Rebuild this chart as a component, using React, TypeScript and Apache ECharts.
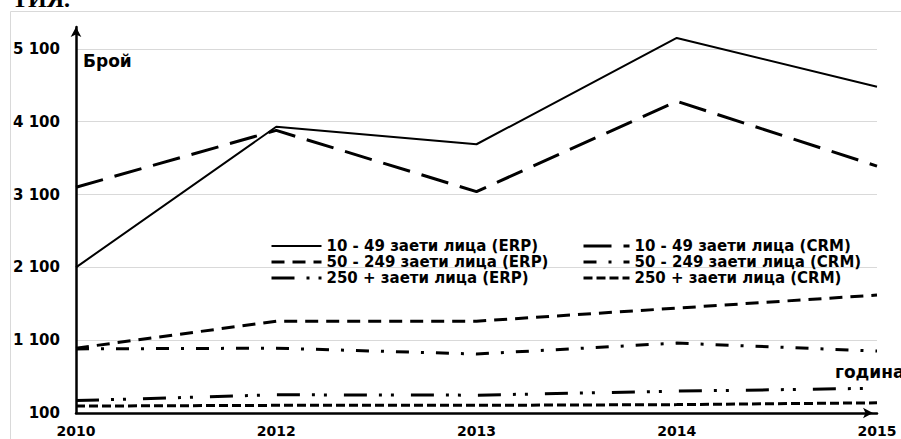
import { useEffect, useRef } from 'react';
import * as echarts from 'echarts';

const years = ['2010', '2012', '2013', '2014', '2015'];
const erp10to49 = [2100, 4030, 3790, 5250, 4580];
const crm10to49 = [3200, 3980, 3140, 4380, 3490];
const erp50to249 = [990, 1360, 1360, 1540, 1720];
const crm50to249 = [980, 990, 910, 1060, 950];
const erp250plus = [270, 350, 345, 400, 440];
const crm250plus = [195, 205, 205, 215, 240];

const seriesNames = [
  '10 - 49 заети лица (ERP)',
  '10 - 49 заети лица (CRM)',
  '50 - 249 заети лица (ERP)',
  '50 - 249 заети лица (CRM)',
  '250 + заети лица (ERP)',
  '250 + заети лица (CRM)',
];
const seriesValues = [erp10to49, crm10to49, erp50to249, crm50to249, erp250plus, crm250plus];

const yMin = 100;
const yMax = 5400;
const yStep = 1000;

const yAxisTitle = 'Брой';
const xAxisTitle = 'година';
const headingFragment = 'ТИЯ.';

const FONT = 'DejaVu Sans';

const lineStyles: { width: number; type: any }[] = [
  { width: 2, type: 'solid' },
  { width: 3, type: [28, 12] },
  { width: 3, type: [13, 8] },
  { width: 3, type: [13, 12, 3, 12] },
  { width: 3, type: [23, 12, 3, 9, 3, 17] },
  { width: 3, type: [9, 4] },
];

function fmt(v: number): string {
  return String(v).replace(/\B(?=(\d{3})+(?!\d))/g, ' ');
}

export default function App() {
  const ref = useRef<HTMLDivElement>(null);
  useEffect(() => {
    if (!ref.current) return;
    const chart = echarts.init(ref.current, null, { renderer: 'svg' });
    const legendBase = {
      orient: 'vertical' as const,
      top: 238,
      padding: 0,
      itemHeight: 10,
      itemGap: 0,
      selectedMode: false,
      itemStyle: { opacity: 0 },
      lineStyle: { width: 'inherit' },
      textStyle: {
        fontFamily: FONT,
        fontWeight: 'bold' as const,
        fontSize: 15,
        lineHeight: 16,
        color: '#000',
      },
    };
    chart.setOption({
      animation: false,
      backgroundColor: '#fff',
      grid: { left: 76, right: 24, top: 27, bottom: 26, containLabel: false },
      legend: [
        { ...legendBase, left: 270, itemWidth: 50, data: [seriesNames[0], seriesNames[2], seriesNames[4]] },
        { ...legendBase, left: 582, itemWidth: 46, data: [seriesNames[1], seriesNames[3], seriesNames[5]] },
      ],
      xAxis: {
        type: 'category',
        data: years,
        boundaryGap: false,
        axisLine: {
          show: true,
          symbol: ['none', 'arrow'],
          symbolSize: [8, 10],
          symbolOffset: [0, -4],
          lineStyle: { color: '#000', width: 2.5 },
        },
        axisTick: { show: false },
        splitLine: { show: false },
        axisLabel: {
          margin: 11,
          color: '#000',
          fontFamily: FONT,
          fontWeight: 'bold',
          fontSize: 14,
        },
      },
      yAxis: {
        type: 'value',
        min: yMin,
        max: yMax,
        interval: yStep,
        axisLine: {
          show: true,
          symbol: ['none', 'arrow'],
          symbolSize: [8, 10],
          lineStyle: { color: '#000', width: 2.5 },
        },
        axisTick: { show: false },
        splitLine: {
          show: true,
          lineStyle: {
            color: ['#d9d9d9', '#d9d9d9', '#d9d9d9', '#d9d9d9', '#d9d9d9', '#d9d9d9', 'rgba(0,0,0,0)'],
            width: 1,
          },
        },
        axisLabel: {
          showMaxLabel: false,
          margin: 16,
          color: '#000',
          fontFamily: FONT,
          fontWeight: 'bold',
          fontSize: 15,
          formatter: (v: number) => fmt(v),
        },
      },
      series: seriesNames.map((name, i) => ({
        name,
        type: 'line',
        data: seriesValues[i],
        symbol: 'none',
        silent: true,
        lineStyle: { color: '#000', width: lineStyles[i].width, type: lineStyles[i].type },
        itemStyle: { color: '#000' },
      })),
      graphic: [
        {
          type: 'rect',
          shape: { x: 10.5, y: 11.5, width: 900, height: 440 },
          style: { fill: 'none', stroke: '#d9d9d9', lineWidth: 1 },
          silent: true,
          z: -10,
        },
        {
          type: 'text',
          x: 12,
          y: -1,
          style: {
            text: headingFragment,
            font: 'bold 24px "Liberation Serif", serif',
            fill: '#000',
            verticalAlign: 'middle',
            align: 'left',
          },
          silent: true,
        },
        {
          type: 'text',
          x: 83,
          y: 61,
          style: {
            text: yAxisTitle,
            font: `bold 17px "${FONT}"`,
            fill: '#000',
            verticalAlign: 'middle',
            align: 'left',
          },
          silent: true,
        },
        {
          type: 'text',
          x: 835,
          y: 372,
          style: {
            text: xAxisTitle,
            font: `bold 17px "${FONT}"`,
            fill: '#000',
            verticalAlign: 'middle',
            align: 'left',
          },
          silent: true,
        },
      ],
    });
    return () => chart.dispose();
  }, []);
  return (
    <div
      ref={ref}
      style={{ position: 'fixed', left: 0, top: 0, width: 901, height: 439 }}
    />
  );
}
